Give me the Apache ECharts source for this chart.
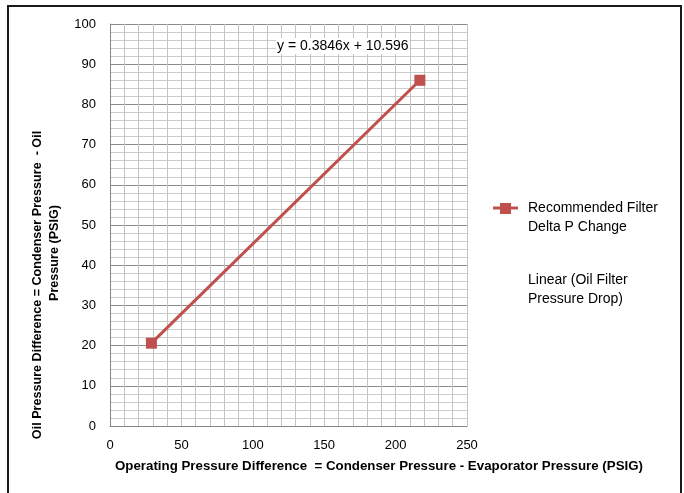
<!DOCTYPE html>
<html><head><meta charset="utf-8">
<script src="https://cdn.jsdelivr.net/npm/echarts@6/dist/echarts.min.js"></script>
<style>html,body{margin:0;padding:0;background:#fff}#c{width:684px;height:493px}</style>
</head><body><div id="c"></div>
<script>
var xValues = [29, 217];
var yValues = [20.6, 86];
var seriesName = 'Recommended Filter Delta P Change';
var trendName = 'Linear (Oil Filter Pressure Drop)';
var equationText = 'y = 0.3846x + 10.596';
var xTitle = 'Operating Pressure Difference  = Condenser Pressure - Evaporator Pressure (PSIG)';
var yTitle1 = 'Oil Pressure Difference = Condenser Pressure  - Oil';
var yTitle2 = 'Pressure (PSIG)';

var FONT = '"Liberation Sans", Arial, sans-serif';
var RED = '#C0504D';
var chart = echarts.init(document.getElementById('c'), null, {renderer:'canvas'});
var pts = xValues.map(function(x,i){return [x, yValues[i]];});
chart.setOption({
  animation:false,
  backgroundColor:'#fff',
  grid:{left:110, right:217, top:24, bottom:67, containLabel:false},
  xAxis:{type:'value', min:0, max:250, interval:50,
    axisLine:{show:true, lineStyle:{color:'#868686', width:1}},
    axisTick:{show:false},
    axisLabel:{color:'#000', fontSize:13, fontFamily:FONT, margin:13},
    splitLine:{show:true, lineStyle:{color:'#c4c4c4', width:1}},
    minorTick:{show:false, splitNumber:5},
    minorSplitLine:{show:true, lineStyle:{color:'#c4c4c4', width:1}}
  },
  yAxis:{type:'value', min:0, max:100, interval:10,
    axisLine:{show:true, lineStyle:{color:'#868686', width:1}},
    axisTick:{show:false},
    axisLabel:{color:'#000', fontSize:13, fontFamily:FONT, margin:14},
    splitLine:{show:true, lineStyle:{color:'#8c8c8c', width:1}},
    minorTick:{show:false, splitNumber:5},
    minorSplitLine:{show:true, lineStyle:{color:'#cccccc', width:1}}
  },
  series:[{
    name:seriesName, type:'line', data:pts,
    symbol:'rect', symbolSize:11,
    lineStyle:{color:RED, width:3},
    itemStyle:{color:RED}
  }],
  graphic:[
    {type:'polyline', shape:{points:[[8,493],[8,6],[681,6],[681,493]]}, style:{stroke:'#1a1a1a', lineWidth:2, fill:null}},
    {type:'text', x:276, y:38, z:100, style:{text:equationText, font:'14px '+FONT, fill:'#000', backgroundColor:'#fff', padding:[1,1,1,1]}},
    {type:'text', x:379, y:460, style:{text:xTitle, font:'bold 13.3px '+FONT, fill:'#000', align:'center'}},
    {type:'text', x:38, y:285, rotation:Math.PI/2, style:{text:yTitle1, font:'bold 12.6px '+FONT, fill:'#000', align:'center', verticalAlign:'middle'}},
    {type:'text', x:55, y:253, rotation:Math.PI/2, style:{text:yTitle2, font:'bold 12.6px '+FONT, fill:'#000', align:'center', verticalAlign:'middle'}},
    {type:'line', shape:{x1:493, y1:208, x2:518, y2:208}, style:{stroke:RED, lineWidth:3}},
    {type:'rect', shape:{x:500, y:203, width:11, height:11}, style:{fill:RED}},
    {type:'text', x:528, y:199, style:{text:'Recommended Filter\nDelta P Change', font:'14px '+FONT, fill:'#000', lineHeight:19}},
    {type:'text', x:528, y:271, style:{text:'Linear (Oil Filter\nPressure Drop)', font:'14px '+FONT, fill:'#000', lineHeight:19}}
  ]
});
</script></body></html>
